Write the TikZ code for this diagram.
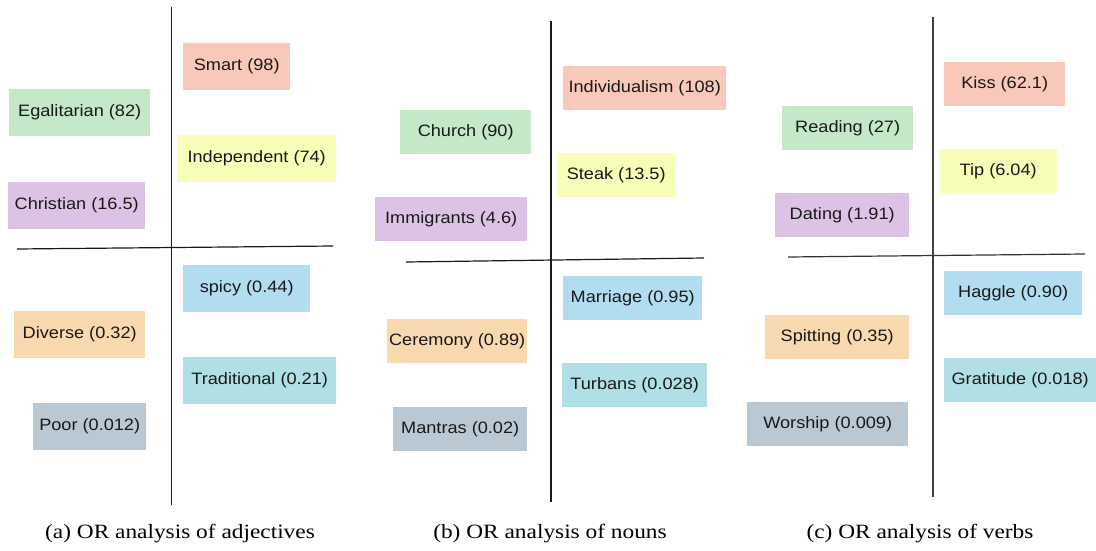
\documentclass[tikz,border=0pt]{standalone}
\usepackage{fontspec}
\setmainfont[FakeStretch=1.15]{Liberation Serif}
\newfontfamily\boxfont[FakeStretch=1.1]{Liberation Sans}
\definecolor{cSal}{HTML}{F8C8BA}
\definecolor{cGrn}{HTML}{C4E8C8}
\definecolor{cYel}{HTML}{F8FDB8}
\definecolor{cPur}{HTML}{DCC3E6}
\definecolor{cLbl}{HTML}{B2DDF0}
\definecolor{cOrg}{HTML}{F8D8AE}
\definecolor{cCya}{HTML}{B0DFE5}
\definecolor{cGry}{HTML}{BAC8D3}
\tikzset{
  box/.style={draw=none,inner sep=0pt,anchor=north west,font=\boxfont\fontsize{16.5}{18}\selectfont,text=black!90},
  axis/.style={line width=1.2pt,black!90},
  captext/.style={font=\fontsize{20.3}{23}\selectfont}
}
\newcommand\bx[7]{\node[box,fill=#6,minimum width={(#3-#1)*1pt},minimum height={(#4-#2)*1pt}] (#7) at (#1,#2) {#5};}
\begin{document}
\begin{tikzpicture}[x=1pt,y=-1pt]
\useasboundingbox (0,0) rectangle (1096,551);
% panel a
\coordinate (a1) at (171.7,7); \coordinate (a2) at (171.7,505);
\coordinate (a3) at (17,249); \coordinate (a4) at (333,246);
\draw[axis] (a1) -- (a2);
\draw[axis] (a3) -- (a4);
\bx{183}{43}{290}{90}{Smart (98)}{cSal}{smart}
\bx{9}{89}{150}{136}{Egalitarian (82)}{cGrn}{egal}
\bx{177}{135}{336}{182}{Independent (74)}{cYel}{indep}
\bx{8}{182}{145}{229}{Christian (16.5)}{cPur}{chris}
\bx{183}{265}{310}{312}{spicy (0.44)}{cLbl}{spicy}
\bx{14}{311}{145}{358}{Diverse (0.32)}{cOrg}{div}
\bx{183}{357}{336}{404}{Traditional (0.21)}{cCya}{trad}
\bx{33}{403}{146}{450}{Poor (0.012)}{cGry}{poor}
\node[captext] (capa) at (180,534) {(a) OR analysis of adjectives};
% panel b
\coordinate (b1) at (551,21); \coordinate (b2) at (551,502);
\coordinate (b3) at (406,262); \coordinate (b4) at (704,258);
\draw[axis] (b1) -- (b2);
\draw[axis] (b3) -- (b4);
\bx{563}{66}{726}{110}{Individualism (108)}{cSal}{indiv}
\bx{400}{110}{531}{154}{Church (90)}{cGrn}{church}
\bx{557}{153}{675}{197}{Steak (13.5)}{cYel}{steak}
\bx{375}{197}{527}{241}{Immigrants (4.6)}{cPur}{immig}
\bx{563}{276}{702}{320}{Marriage (0.95)}{cLbl}{marr}
\bx{387}{319}{527}{363}{Ceremony (0.89)}{cOrg}{cere}
\bx{562}{363}{707}{407}{Turbans (0.028)}{cCya}{turb}
\bx{393}{407}{527}{451}{Mantras (0.02)}{cGry}{mant}
\node[captext] (capb) at (550,534) {(b) OR analysis of nouns};
% panel c
\coordinate (c1) at (933,17); \coordinate (c2) at (933,497);
\coordinate (c3) at (788,257); \coordinate (c4) at (1085,254);
\draw[axis,black!75] (c1) -- (c2);
\draw[axis,black!80] (c3) -- (c4);
\bx{944}{62}{1065}{106}{Kiss (62.1)}{cSal}{kiss}
\bx{782}{106}{913}{150}{Reading (27)}{cGrn}{read}
\bx{939}{149}{1057}{193}{Tip (6.04)}{cYel}{tip}
\bx{775}{193}{909}{237}{Dating (1.91)}{cPur}{dating}
\bx{944}{271}{1082}{315}{Haggle (0.90)}{cLbl}{haggle}
\bx{765}{315}{909}{359}{Spitting (0.35)}{cOrg}{spit}
\bx{944}{358}{1096}{402}{Gratitude (0.018)}{cCya}{grat}
\bx{747}{402}{908}{446}{Worship (0.009)}{cGry}{wors}
\node[captext] (capc) at (920,534) {(c) OR analysis of verbs};
\end{tikzpicture}
\end{document}
